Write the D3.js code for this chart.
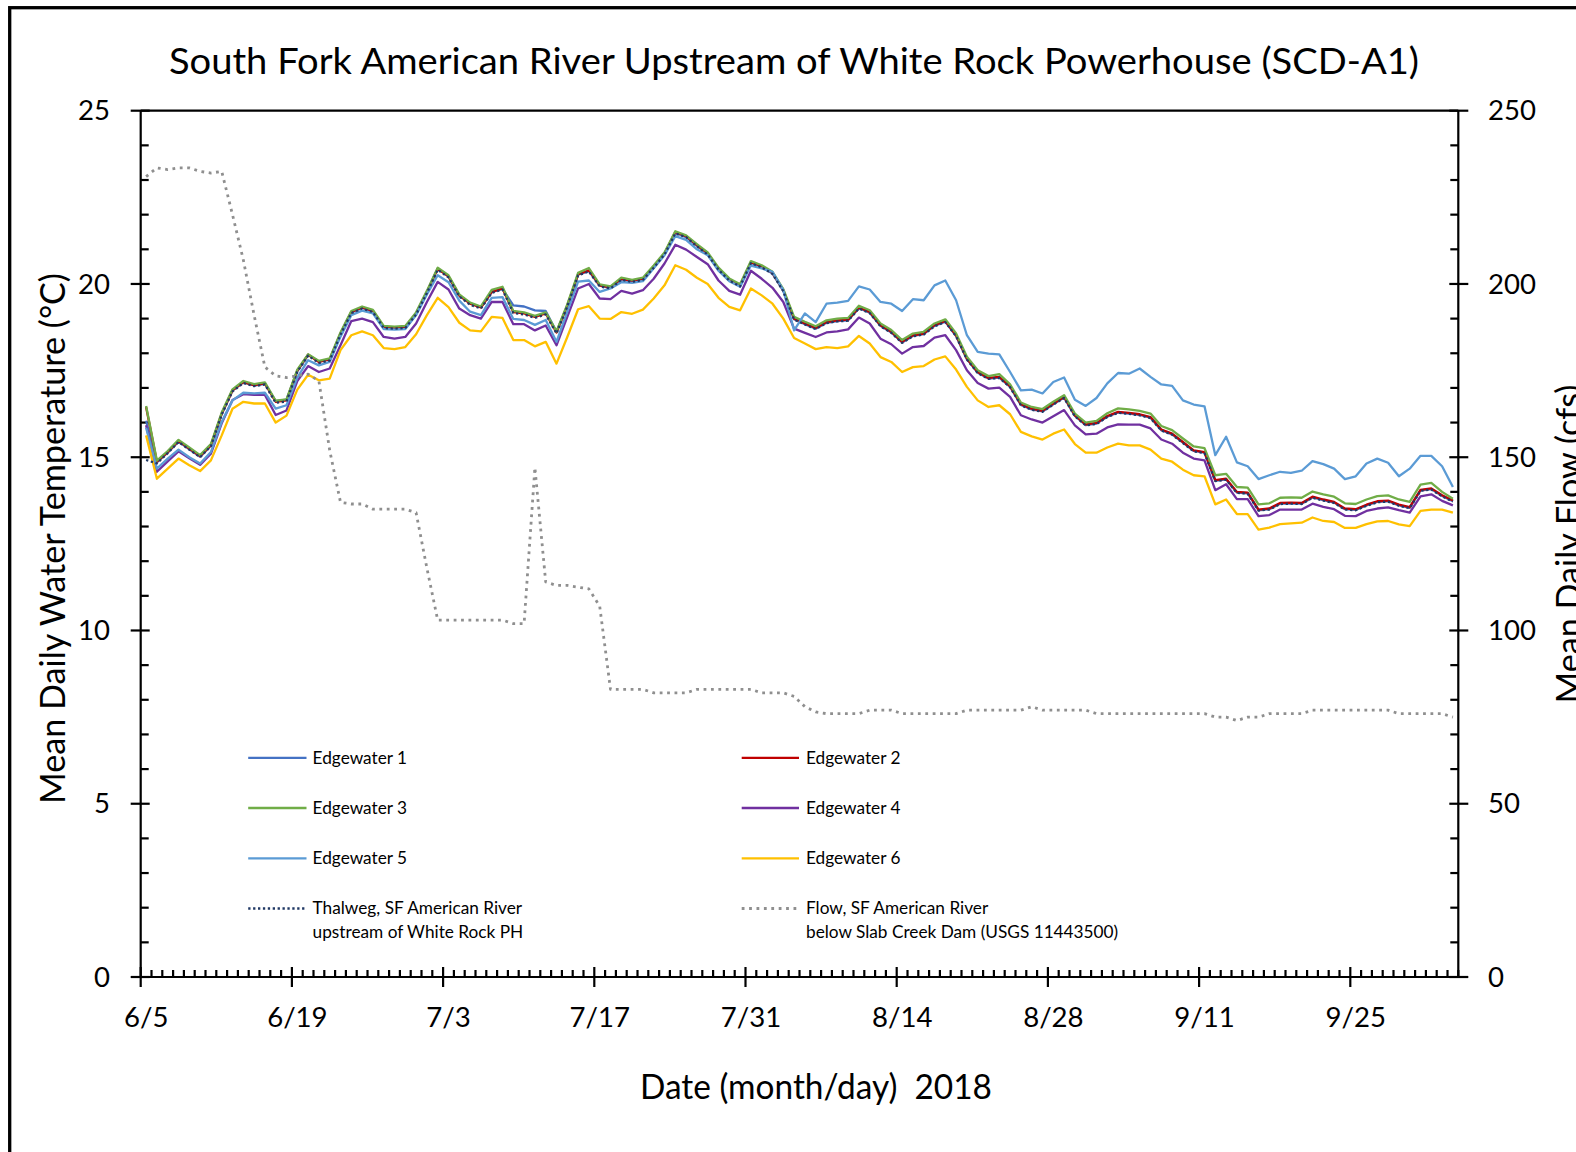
<!DOCTYPE html>
<html><head><meta charset="utf-8">
<script src="https://cdn.jsdelivr.net/npm/d3@7"></script>
<style>
html,body{margin:0;padding:0;background:#fff;}
svg{display:block;}
text{font-family:Lato,"Open Sans",sans-serif;fill:#000;}
</style></head><body>
<svg id="chart" width="1576" height="1152"></svg>
<script>
// ---------------- DATA ----------------
const startDate = "2018-06-05";
const nDays = 122;
const tickLabels = ["6/5","6/19","7/3","7/17","7/31","8/14","8/28","9/11","9/25"];
const tempTicks = [0,5,10,15,20,25];
const flowTicks = [0,50,100,150,200,250];

const edgewater1 = [16.05,14.85,15.13,15.45,15.23,15.01,15.33,16.24,16.92,17.16,
17.07,17.12,16.62,16.66,17.48,17.95,17.76,17.83,18.55,19.18,
19.31,19.21,18.75,18.73,18.75,19.14,19.76,20.45,20.21,19.66,
19.44,19.33,19.76,19.86,19.38,19.35,19.24,19.22,18.62,19.36,
20.27,20.37,19.95,19.89,20.13,20.07,20.13,20.48,20.86,21.47,
21.35,21.10,20.86,20.42,20.11,19.94,20.61,20.49,20.30,19.80,
18.98,18.84,18.71,18.88,18.93,18.95,19.30,19.17,18.79,18.60,
18.31,18.50,18.55,18.79,18.91,18.50,17.83,17.44,17.27,17.30,
17.03,16.51,16.38,16.32,16.53,16.72,16.19,15.93,15.97,16.17,
16.29,16.26,16.22,16.14,15.78,15.66,15.42,15.18,15.13,14.32,
14.36,13.98,13.96,13.47,13.50,13.66,13.67,13.66,13.84,13.76,
13.69,13.50,13.48,13.61,13.71,13.73,13.61,13.54,14.04,14.08,
13.88,13.73];

const edgewater2 = [16.45,14.87,15.15,15.47,15.25,15.03,15.35,16.26,16.93,17.17,
17.08,17.13,16.60,16.64,17.50,17.96,17.75,17.82,18.57,19.19,
19.32,19.22,18.76,18.74,18.76,19.15,19.77,20.44,20.22,19.67,
19.43,19.32,19.77,19.87,19.19,19.15,19.05,19.15,18.60,19.38,
20.28,20.39,19.96,19.90,20.15,20.09,20.15,20.50,20.88,21.50,
21.38,21.12,20.88,20.44,20.13,19.96,20.63,20.51,20.32,19.82,
19.00,18.86,18.73,18.90,18.95,18.97,19.32,19.19,18.81,18.62,
18.33,18.52,18.57,18.81,18.93,18.52,17.85,17.46,17.29,17.32,
17.05,16.53,16.40,16.34,16.55,16.74,16.21,15.95,15.99,16.19,
16.31,16.28,16.24,16.16,15.80,15.68,15.44,15.20,15.15,14.34,
14.38,14.00,13.98,13.49,13.52,13.68,13.69,13.68,13.86,13.78,
13.71,13.52,13.50,13.63,13.73,13.75,13.63,13.56,14.06,14.10,
13.90,13.75];

const edgewater3 = [16.48,14.90,15.18,15.50,15.28,15.06,15.38,16.29,16.96,17.20,
17.11,17.16,16.63,16.67,17.53,17.97,17.78,17.85,18.60,19.22,
19.35,19.25,18.79,18.77,18.79,19.18,19.80,20.47,20.25,19.70,
19.46,19.35,19.83,19.92,19.22,19.18,19.08,19.18,18.63,19.41,
20.32,20.46,19.99,19.93,20.18,20.12,20.18,20.53,20.91,21.52,
21.40,21.15,20.91,20.47,20.16,19.99,20.66,20.54,20.35,19.85,
19.05,18.91,18.78,18.95,19.00,19.02,19.37,19.24,18.86,18.67,
18.38,18.57,18.62,18.86,18.98,18.57,17.90,17.51,17.34,17.40,
17.10,16.58,16.45,16.39,16.60,16.79,16.26,16.00,16.05,16.27,
16.41,16.38,16.34,16.26,15.90,15.78,15.54,15.31,15.26,14.48,
14.52,14.14,14.12,13.64,13.67,13.83,13.84,13.83,14.01,13.93,
13.86,13.67,13.65,13.78,13.88,13.90,13.78,13.71,14.21,14.26,
14.00,13.80];

const edgewater4 = [15.92,14.58,14.88,15.17,14.97,14.78,15.10,15.98,16.65,16.82,
16.80,16.80,16.22,16.35,17.20,17.63,17.46,17.56,18.23,18.93,
19.00,18.90,18.47,18.42,18.47,18.86,19.48,20.06,19.84,19.29,
19.10,19.00,19.48,19.48,18.84,18.84,18.66,18.80,18.23,19.05,
19.87,20.00,19.58,19.56,19.80,19.72,19.82,20.15,20.59,21.13,
20.99,20.78,20.57,20.10,19.80,19.69,20.38,20.15,19.89,19.48,
18.71,18.59,18.47,18.60,18.63,18.69,19.03,18.86,18.42,18.26,
17.99,18.18,18.21,18.45,18.52,18.09,17.51,17.14,16.98,17.01,
16.74,16.21,16.09,16.00,16.18,16.36,15.92,15.66,15.68,15.86,
15.95,15.94,15.94,15.83,15.51,15.39,15.13,14.96,14.91,14.05,
14.22,13.79,13.79,13.30,13.33,13.49,13.49,13.49,13.66,13.57,
13.50,13.31,13.30,13.45,13.52,13.55,13.47,13.40,13.87,13.93,
13.74,13.61];

const edgewater5 = [15.85,14.67,14.96,15.22,15.00,14.82,15.15,16.02,16.64,16.86,
16.84,16.86,16.40,16.50,17.30,17.80,17.65,17.75,18.48,19.10,
19.23,19.15,18.70,18.68,18.70,19.10,19.70,20.25,20.05,19.52,
19.20,19.10,19.60,19.62,18.99,18.96,18.82,18.96,18.33,19.20,
20.07,20.10,19.77,19.87,20.05,20.03,20.08,20.45,20.83,21.38,
21.27,21.00,20.83,20.38,20.08,19.92,20.53,20.45,20.35,19.82,
18.66,19.15,18.90,19.43,19.46,19.51,19.93,19.84,19.48,19.43,
19.22,19.56,19.53,19.96,20.10,19.53,18.52,18.04,17.99,17.97,
17.46,16.93,16.95,16.84,17.17,17.30,16.66,16.48,16.71,17.13,
17.43,17.41,17.56,17.32,17.10,17.06,16.64,16.52,16.47,15.06,
15.59,14.85,14.74,14.37,14.48,14.58,14.55,14.61,14.89,14.80,
14.67,14.37,14.45,14.82,14.96,14.84,14.45,14.67,15.04,15.04,
14.74,14.14];

const edgewater6 = [15.63,14.38,14.67,14.96,14.77,14.60,14.91,15.63,16.40,16.60,
16.55,16.55,16.00,16.20,16.95,17.38,17.22,17.27,18.09,18.52,
18.63,18.52,18.15,18.12,18.18,18.55,19.10,19.60,19.33,18.88,
18.66,18.63,19.05,19.02,18.38,18.38,18.20,18.33,17.70,18.47,
19.27,19.36,19.00,18.99,19.19,19.14,19.26,19.58,19.96,20.54,
20.41,20.18,20.00,19.60,19.34,19.24,19.87,19.67,19.43,19.00,
18.44,18.28,18.12,18.18,18.15,18.20,18.50,18.28,17.89,17.75,
17.46,17.60,17.63,17.82,17.91,17.53,17.03,16.64,16.45,16.50,
16.24,15.73,15.60,15.51,15.68,15.80,15.38,15.13,15.13,15.28,
15.39,15.34,15.34,15.22,14.96,14.87,14.64,14.48,14.45,13.64,
13.78,13.36,13.36,12.91,12.97,13.07,13.09,13.11,13.26,13.16,
13.13,12.96,12.96,13.07,13.15,13.16,13.06,13.01,13.45,13.49,
13.49,13.40];

const thalweg = [14.92,14.82,15.12,15.44,15.22,15.00,15.32,16.23,16.90,17.14,
17.05,17.10,16.57,16.61,17.47,17.93,17.72,17.79,18.54,19.16,
19.29,19.19,18.73,18.71,18.73,19.12,19.74,20.41,20.19,19.64,
19.40,19.29,19.74,19.84,19.16,19.12,19.02,19.12,18.57,19.35,
20.25,20.36,19.93,19.87,20.12,20.06,20.12,20.47,20.85,21.46,
21.35,21.09,20.85,20.41,20.10,19.93,20.60,20.48,20.29,19.79,
18.97,18.83,18.70,18.87,18.92,18.94,19.29,19.16,18.78,18.59,
18.30,18.49,18.54,18.78,18.90,18.49,17.82,17.43,17.26,17.29,
17.02,16.50,16.37,16.31,16.52,16.71,16.18,15.92,15.96,16.16,
16.28,16.25,16.21,16.13,15.77,15.65,15.41,15.17,15.12,14.31,
14.35,13.97,13.95,13.46,13.49,13.65,13.66,13.65,13.83,13.75,
13.68,13.49,13.47,13.60,13.70,13.72,13.60,13.53,14.03,14.07,
13.87,13.72];

const flow = [231,233.5,233,233.5,233.5,232.5,232,232.5,220,207,
191,176,173.5,173,173.5,174,172,152,137,136.5,
136.5,135,135,135,135,134,118,103,103,103,
103,103,103,103,102,102,147,114,113,113,
112.5,112,107,83,83,83,83,82,82,82,
82,83,83,83,83,83,83,82,82,82,
81,78,76.5,76,76,76,76,77,77,77,
76,76,76,76,76,76,77,77,77,77,
77,77,78,77,77,77,77,77,76,76,
76,76,76,76,76,76,76,76,76,75,
75,74,75,75,76,76,76,76,77,77,
77,77,77,77,77,77,76,76,76,76,
76,75];

const seriesNames = ["Edgewater 1","Edgewater 2","Edgewater 3","Edgewater 4","Edgewater 5","Edgewater 6",
  "Thalweg, SF American River|upstream of White Rock PH","Flow, SF American River|below Slab Creek Dam (USGS 11443500)"];

// ---------------- LAYOUT ----------------
const L = 140.7, R = 1458.3, T = 110.7, B = 977;
const svg = d3.select("#chart");
svg.append("rect").attr("width",1576).attr("height",1152).attr("fill","#fff");
svg.append("rect").attr("x",9.7).attr("y",7.7).attr("width",1700).attr("height",1300)
  .attr("fill","none").attr("stroke","#000").attr("stroke-width",3.3);

const parse = d3.timeParse("%Y-%m-%d");
const d0 = parse(startDate);
const days = d3.range(nDays).map(i => d3.timeDay.offset(d0, i));
const dEnd = d3.timeDay.offset(d0, nDays);
const x = d3.scaleTime().domain([d0, dEnd]).range([L, R]);
const xc = d => x(d3.timeHour.offset(d, 12));
const yT = d3.scaleLinear().domain([0,25]).range([B,T]);
const yF = d3.scaleLinear().domain([0,250]).range([B,T]);

const fmt = d3.timeFormat("%-m/%-d");

// ---------------- AXES ----------------
const ax = svg.append("g").attr("stroke","#000").attr("stroke-width",2.2).attr("fill","none");
// top border
ax.append("line").attr("x1",L).attr("x2",R).attr("y1",T).attr("y2",T);
// left axis line
ax.append("line").attr("x1",L).attr("x2",L).attr("y1",T).attr("y2",B);
ax.append("line").attr("x1",R).attr("x2",R).attr("y1",T).attr("y2",B);
ax.append("line").attr("x1",L).attr("x2",R).attr("y1",B).attr("y2",B);

// left minor + major ticks
d3.range(0,26).forEach(v => {
  const major = v % 5 === 0;
  ax.append("line").attr("x1", major ? L-10 : L).attr("x2", major ? L+9 : L+8)
    .attr("y1", yT(v)).attr("y2", yT(v));
});
d3.range(0,251,10).forEach(v => {
  const major = v % 50 === 0;
  ax.append("line").attr("x1", major ? R-9 : R-8).attr("x2", major ? R+10 : R)
    .attr("y1", yF(v)).attr("y2", yF(v));
});
// x ticks (day boundaries)
const allBounds = d3.range(nDays+1).map(i => d3.timeDay.offset(d0, i));
allBounds.forEach((d,i) => {
  const major = i % 14 === 0 && i < nDays;
  ax.append("line").attr("x1", x(d)).attr("x2", x(d))
    .attr("y1", major ? B-10 : B-7).attr("y2", major ? B+10 : B);
});

// tick labels
const tl = svg.append("g").attr("class","ticklab").style("font-size","27px");
tempTicks.forEach(v => tl.append("text").attr("x",110).attr("y",yT(v)).attr("dy","0.36em")
  .attr("text-anchor","end").text(v));
flowTicks.forEach(v => tl.append("text").attr("x",1488).attr("y",yF(v)).attr("dy","0.36em")
  .attr("text-anchor","start").text(v));
const labDays = days.filter(d => tickLabels.includes(fmt(d)));
labDays.forEach(d => tl.append("text").attr("x", x(d) + 5.5).attr("y", 1027)
  .attr("text-anchor","middle").text(fmt(d)));

// titles
const title = svg.append("text").attr("x",794).attr("y",74).attr("text-anchor","middle")
  .style("font-size","37.5px").text("South Fork American River Upstream of White Rock Powerhouse (SCD-A1)");
const xt = svg.append("text").attr("x",816).attr("y",1099).attr("text-anchor","middle")
  .style("font-size","35px").style("white-space","pre").text("Date (month/day)  2018");
const ytl = svg.append("text").attr("transform","translate(64.5,538.5) rotate(-90)").attr("text-anchor","middle")
  .style("font-size","35px").text("Mean Daily Water Temperature (°C)");
const ytr = svg.append("text").attr("transform","translate(1581,544) rotate(-90)").attr("text-anchor","middle")
  .style("font-size","35px").text("Mean Daily Flow (cfs)");

// ---------------- SERIES ----------------
const styles = [
  {data: edgewater1, color:"#4472C4", w:2.3, dash:null, y:yT},
  {data: edgewater2, color:"#C00000", w:2.3, dash:null, y:yT},
  {data: edgewater3, color:"#70AD47", w:2.3, dash:null, y:yT},
  {data: edgewater4, color:"#7030A0", w:2.3, dash:null, y:yT},
  {data: edgewater5, color:"#5B9BD5", w:2.3, dash:null, y:yT},
  {data: edgewater6, color:"#FFC000", w:2.3, dash:null, y:yT},
  {data: thalweg,    color:"#203864", w:2.3, dash:"2.3,2.6", y:yT},
  {data: flow,       color:"#8F8F8F", w:2.8, dash:"2.8,4.6", y:yF}
];
const plot = svg.append("g");
styles.forEach(s => {
  const line = d3.line().x((v,i) => xc(days[i])).y(v => s.y(v));
  plot.append("path").datum(s.data).attr("d", line).attr("fill","none")
    .attr("stroke", s.color).attr("stroke-width", s.w)
    .attr("stroke-linejoin","round")
    .attr("stroke-dasharray", s.dash);
});

// ---------------- LEGEND ----------------
const leg = svg.append("g").style("font-size","17px");
const colX = [[248.2,306.5,312.6],[741.7,799,806]];
const rowY = [757.8, 808, 858.3, 908.5];
seriesNames.forEach((name,k) => {
  const c = colX[k % 2], r = rowY[Math.floor(k/2)], s = styles[k];
  leg.append("line").attr("x1",c[0]).attr("x2",c[1]).attr("y1",r).attr("y2",r)
    .attr("stroke", s.color).attr("stroke-width", s.w).attr("stroke-dasharray", s.dash);
  name.split("|").forEach((part,j) => {
    leg.append("text").attr("x",c[2]).attr("y", r + j*23.2).attr("dy","0.35em").text(part);
  });
});

// ---------------- width fitting (to mimic narrow Office font) ----------------
function fitRatio(sel, ratio){
  sel.each(function(){
    const w = this.getComputedTextLength();
    this.setAttribute("textLength", w*ratio);
    this.setAttribute("lengthAdjust","spacingAndGlyphs");
  });
}
function ratioFor(node, target){ return target / node.getComputedTextLength(); }
fitRatio(title, ratioFor(title.node(), 1250));
const rAx = ratioFor(ytl.node(), 531);
fitRatio(ytl, rAx); fitRatio(ytr, rAx);
fitRatio(xt, ratioFor(xt.node(), 352));
const legTexts = leg.selectAll("text");
const rLeg = ratioFor(legTexts.nodes()[0], 94.5);
fitRatio(legTexts, rLeg);
const tlTexts = tl.selectAll("text");
const ref250 = tlTexts.nodes().find(n => n.textContent === "250");
fitRatio(tlTexts, ratioFor(ref250, 48));
</script>
</body></html>
